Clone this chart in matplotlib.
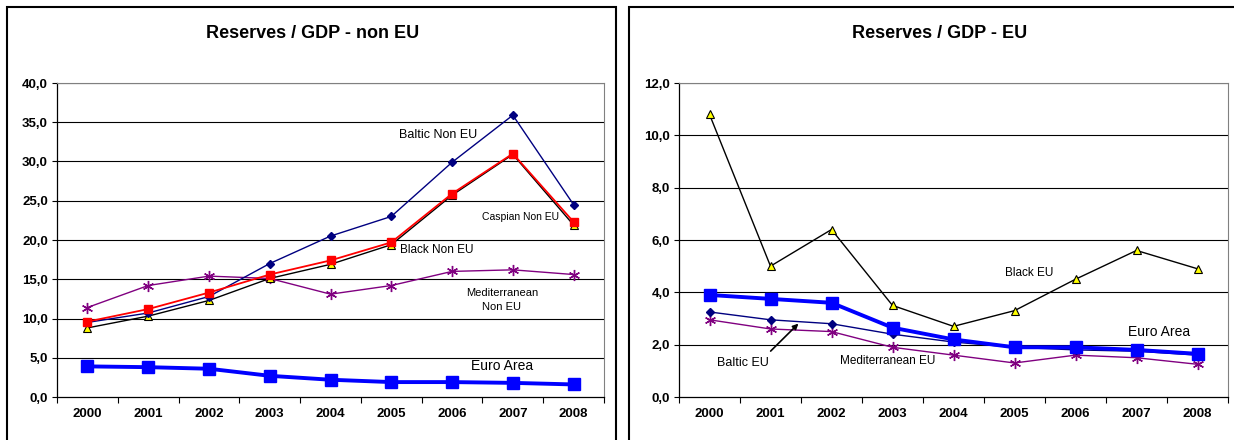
import numpy as np
import matplotlib
matplotlib.use("Agg")
import matplotlib.pyplot as plt
from matplotlib.patches import Rectangle

plt.rcParams["font.family"] = ["Liberation Sans", "DejaVu Sans"]

years = ["2000", "2001", "2002", "2003", "2004", "2005", "2006", "2007", "2008"]

# non EU panel
baltic_non_eu = [9.5, 10.7, 12.8, 17.0, 20.5, 23.0, 29.9, 35.9, 24.5]
caspian_non_eu = [9.6, 11.2, 13.3, 15.6, 17.4, 19.7, 25.9, 31.0, 22.3]
black_non_eu = [8.8, 10.3, 12.3, 15.1, 16.9, 19.4, 25.7, 30.9, 21.9]
med_non_eu = [11.4, 14.2, 15.4, 15.1, 13.1, 14.2, 16.0, 16.2, 15.6]
euro_area = [3.9, 3.8, 3.6, 2.7, 2.2, 1.9, 1.9, 1.8, 1.6]

# EU panel
black_eu = [10.8, 5.0, 6.4, 3.5, 2.7, 3.3, 4.5, 5.6, 4.9]
euro_area_eu = [3.9, 3.75, 3.6, 2.65, 2.2, 1.9, 1.9, 1.8, 1.65]
baltic_eu = [3.25, 2.95, 2.8, 2.4, 2.1, 1.9, 1.8, 1.75, 1.6]
med_eu = [2.95, 2.6, 2.5, 1.9, 1.6, 1.3, 1.6, 1.5, 1.25]

left_ticks = [0, 5, 10, 15, 20, 25, 30, 35, 40]
right_ticks = [0, 2, 4, 6, 8, 10, 12]

star = (6, 2, 0)
x = np.arange(len(years))

fig = plt.figure(figsize=(12.34, 4.4), dpi=100)

# chart area borders
fig.patches.append(Rectangle((7 / 1234, -0.05), 609 / 1234, 1.05 - 7 / 440,
                             transform=fig.transFigure, fill=False, lw=1.5, ec="black"))
fig.patches.append(Rectangle((629 / 1234, -0.05), 700 / 1234, 1.05 - 7 / 440,
                             transform=fig.transFigure, fill=False, lw=1.5, ec="black"))

ax1 = fig.add_axes([57 / 1234, 1 - 397 / 440, 547 / 1234, 314 / 440])
ax2 = fig.add_axes([679 / 1234, 1 - 397 / 440, 549 / 1234, 314 / 440])


def style_axes(ax, ticks):
    ax.set_xlim(-0.5, len(years) - 0.5)
    ax.set_ylim(ticks[0], ticks[-1])
    ax.set_yticks(ticks)
    ax.set_yticklabels([f"{t:.1f}".replace(".", ",") for t in ticks],
                       fontsize=9.5, fontweight="bold")
    ax.set_xticks(x)
    ax.set_xticklabels(years, fontsize=9.5, fontweight="bold")
    ax.set_xticks(np.arange(len(years) + 1) - 0.5, minor=True)
    ax.tick_params(axis="x", which="major", length=0, pad=8)
    ax.tick_params(axis="x", which="minor", length=4, width=0.8, direction="out")
    ax.tick_params(axis="y", length=3.5, width=0.8, pad=3)
    for t in ticks[1:]:
        ax.axhline(t, color="black", lw=0.8, zorder=1)
    for side in ["top", "right"]:
        ax.spines[side].set_color("#808080")
    for side in ["left", "bottom"]:
        ax.spines[side].set_color("black")
        ax.spines[side].set_linewidth(0.9)


style_axes(ax1, left_ticks)
ax1.plot(x, med_non_eu, color="#800080", lw=1, marker=star, ms=8, mew=1, zorder=3)
ax1.plot(x, black_non_eu, color="black", lw=1, marker="^", ms=6,
         mfc="#FFFF00", mec="black", mew=0.8, zorder=3)
ax1.plot(x, baltic_non_eu, color="#000080", lw=1, marker="D", ms=4, zorder=4)
ax1.plot(x, caspian_non_eu, color="#FF0000", lw=1.3, marker="s", ms=6, zorder=5)
ax1.plot(x, euro_area, color="#0000FF", lw=2.8, marker="s", ms=9, zorder=6)

ax1.text(5.77, 33.4, "Baltic Non EU", fontsize=9, ha="center", va="center")
ax1.text(7.12, 22.9, "Caspian Non EU", fontsize=7.5, ha="center", va="center")
ax1.text(5.75, 18.7, "Black Non EU", fontsize=8.5, ha="center", va="center")
ax1.text(6.82, 12.4, "Mediterranean\nNon EU", fontsize=8, ha="center",
         va="center", linespacing=1.5)
ax1.text(6.82, 3.95, "Euro Area", fontsize=10, ha="center", va="center")

style_axes(ax2, right_ticks)
ax2.plot(x, med_eu, color="#800080", lw=1, marker=star, ms=8, mew=1, zorder=3)
ax2.plot(x, black_eu, color="black", lw=1, marker="^", ms=6,
         mfc="#FFFF00", mec="black", mew=0.8, zorder=3)
ax2.plot(x, baltic_eu, color="#000080", lw=1, marker="D", ms=4, zorder=4)
ax2.plot(x, euro_area_eu, color="#0000FF", lw=2.8, marker="s", ms=9, zorder=6)

ax2.text(5.24, 4.74, "Black EU", fontsize=8.5, ha="center", va="center")
ax2.text(7.37, 2.48, "Euro Area", fontsize=10, ha="center", va="center")
ax2.text(2.92, 1.38, "Mediterranean EU", fontsize=8.5, ha="center", va="center")
ax2.text(0.55, 1.3, "Baltic EU", fontsize=9, ha="center", va="center")
ax2.annotate("", xy=(1.49, 2.88), xytext=(0.97, 1.68),
             arrowprops=dict(arrowstyle="-|>", color="black", lw=1.2,
                             mutation_scale=8))

fig.text(313 / 1234, 1 - 33 / 440, "Reserves / GDP - non EU", fontsize=13,
         fontweight="bold", ha="center", va="center")
fig.text(940 / 1234, 1 - 33 / 440, "Reserves / GDP - EU", fontsize=13,
         fontweight="bold", ha="center", va="center")

fig.savefig("out.png", dpi=100)
